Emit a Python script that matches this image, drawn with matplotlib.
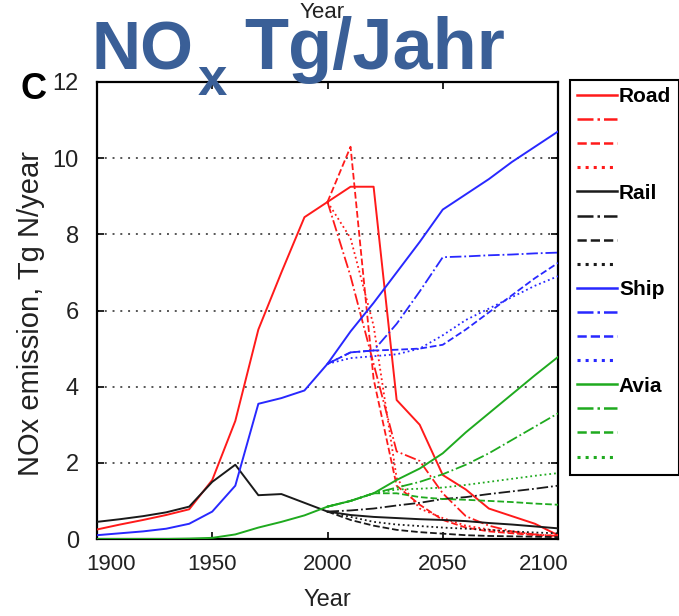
"""
NOx emissions by transport sector (Road, Rail, Ship, Avia), history + 4 scenarios
"""
import matplotlib
matplotlib.use('Agg')
import matplotlib.pyplot as plt
import matplotlib.transforms as mtransforms
from matplotlib.lines import Line2D

plt.rcParams['font.family'] = ['Liberation Sans', 'DejaVu Sans']

# historical period (shared by all scenarios)
years_hist = [1900, 1910, 1920, 1930, 1940, 1950, 1960, 1970, 1980, 1990, 2000]
road_hist = [0.25, 0.38, 0.5, 0.63, 0.78, 1.55, 3.1, 5.5, 7.0, 8.45, 8.85]
rail_hist = [0.45, 0.52, 0.6, 0.7, 0.85, 1.5, 1.95, 1.15, 1.18, 0.95, 0.72]
ship_hist = [0.1, 0.15, 0.2, 0.27, 0.4, 0.72, 1.4, 3.55, 3.7, 3.9, 4.6]
avia_hist = [0.0, 0.0, 0.0, 0.0, 0.01, 0.03, 0.12, 0.3, 0.45, 0.62, 0.85]

# future scenarios: solid, dash-dot, dashed, dotted
years_fut = [2000, 2010, 2020, 2030, 2040, 2050, 2060, 2070, 2080, 2090, 2100]

road_s1 = [8.85, 9.25, 9.25, 3.65, 3.0, 1.68, 1.3, 0.8, 0.6, 0.4, 0.1]
road_s2 = [8.85, 6.9, 4.6, 2.3, 2.05, 1.2, 0.6, 0.35, 0.2, 0.12, 0.08]
road_s3 = [8.85, 10.3, 4.2, 1.4, 0.9, 0.5, 0.3, 0.2, 0.15, 0.1, 0.05]
road_s4 = [8.85, 7.9, 5.6, 1.6, 0.8, 0.55, 0.35, 0.25, 0.18, 0.12, 0.08]

rail_s1 = [0.72, 0.63, 0.58, 0.55, 0.52, 0.5, 0.47, 0.42, 0.38, 0.33, 0.28]
rail_s2 = [0.72, 0.75, 0.8, 0.88, 0.95, 1.05, 1.1, 1.18, 1.25, 1.32, 1.4]
rail_s3 = [0.72, 0.5, 0.35, 0.24, 0.18, 0.14, 0.1, 0.08, 0.07, 0.06, 0.05]
rail_s4 = [0.72, 0.58, 0.45, 0.38, 0.34, 0.3, 0.27, 0.24, 0.2, 0.17, 0.15]

ship_s1 = [4.6, 5.45, 6.2, 7.0, 7.8, 8.65, 9.05, 9.45, 9.9, 10.3, 10.7]
ship_s2 = [4.6, 4.9, 4.95, 5.65, 6.5, 7.4, 7.42, 7.45, 7.47, 7.5, 7.52]
ship_s3 = [4.6, 4.9, 4.95, 4.97, 5.0, 5.1, 5.5, 5.95, 6.4, 6.85, 7.25]
ship_s4 = [4.6, 4.75, 4.8, 4.85, 5.0, 5.35, 5.75, 6.05, 6.35, 6.65, 6.9]

avia_s1 = [0.85, 1.0, 1.2, 1.55, 1.85, 2.25, 2.8, 3.3, 3.8, 4.3, 4.78]
avia_s2 = [0.85, 1.0, 1.2, 1.35, 1.5, 1.7, 1.95, 2.25, 2.6, 2.95, 3.3]
avia_s3 = [0.85, 1.0, 1.2, 1.2, 1.1, 1.05, 1.03, 1.0, 0.97, 0.93, 0.9]
avia_s4 = [0.85, 1.0, 1.2, 1.3, 1.32, 1.35, 1.42, 1.5, 1.58, 1.66, 1.73]

sectors = ['Road', 'Rail', 'Ship', 'Avia']
colors = ['#ff1a1a', '#1a1a1a', '#2828ff', '#1faa1f']
hist = [road_hist, rail_hist, ship_hist, avia_hist]
scen = [[road_s1, road_s2, road_s3, road_s4],
        [rail_s1, rail_s2, rail_s3, rail_s4],
        [ship_s1, ship_s2, ship_s3, ship_s4],
        [avia_s1, avia_s2, avia_s3, avia_s4]]
styles = ['-', '-.', '--', ':']

fig = plt.figure(figsize=(6.79, 6.16), dpi=100)
ax = fig.add_axes([97 / 679, 1 - 539 / 616, 461 / 679, 457 / 616])

handles, labels = [], []
for name, col, h, sc in zip(sectors, colors, hist, scen):
    for k, (ls, vals) in enumerate(zip(styles, sc)):
        lw = 1.4 if ls == '-' else 1.3
        ax.plot(years_fut, vals, color=col, linestyle=ls, linewidth=lw, zorder=3)
        handles.append(Line2D([], [], color=col, linestyle=ls,
                              linewidth=2.2 if ls == ':' else 1.8))
        labels.append(name if k == 0 else '')
    ax.plot(years_hist, h, color=col, linewidth=1.4, zorder=3)

ax.set_xlim(1900, 2100)
ax.set_ylim(0, 12)
ax.set_xticks([1900, 1950, 2000, 2050, 2100])
ax.set_yticks([0, 2, 4, 6, 8, 10, 12])
ax.tick_params(direction='in', top=True, right=True, length=5, width=1.2,
               labelcolor='#222222')
ax.tick_params(axis='y', labelsize=17, pad=13)
ax.tick_params(axis='x', labelsize=16, pad=11)
for y in [2, 4, 6, 8, 10]:
    ax.axhline(y, color='#555555', linestyle=(0, (1, 3)), linewidth=1.4, zorder=1)
for s in ax.spines.values():
    s.set_linewidth(1.6)
ax.set_xlabel('Year', fontsize=17, color='#222222', labelpad=10)

# edge year labels sit inward in the original
xlabels = ax.get_xticklabels()
xlabels[0].set_transform(xlabels[0].get_transform() +
                         mtransforms.ScaledTranslation(14 / 100, 0, fig.dpi_scale_trans))
xlabels[-1].set_transform(xlabels[-1].get_transform() +
                          mtransforms.ScaledTranslation(-14 / 100, 0, fig.dpi_scale_trans))

fig.text(31 / 679, 1 - 314 / 616, 'NOx emission, Tg N/year', rotation=90,
         fontsize=21, color='#222222', ha='center', va='center')
# top axis label, partly hidden behind the overlaid title
fig.text(322 / 679, 1 - 13 / 616, 'Year', fontsize=16, color='#222222',
         ha='center', va='center', zorder=1)
fig.text(20 / 679, 1 - 99 / 616, 'C', fontsize=26, fontweight='bold',
         ha='left', va='baseline')

blue = '#3a5f97'
fig.text(92 / 679, 1 - 69 / 616, 'NO', fontsize=49, fontweight='bold',
         color=blue, ha='left', va='baseline', zorder=5)
fig.text(198 / 679, 1 - 95 / 616, 'x', fontsize=38, fontweight='bold',
         color=blue, ha='left', va='baseline', zorder=5)
fig.text(244 / 679, 1 - 69 / 616, 'Tg/Jahr', fontsize=52, fontweight='bold',
         color=blue, ha='left', va='baseline', zorder=5)

leg = fig.legend(handles, labels, loc='upper left',
                 bbox_to_anchor=(570 / 679, 1 - 80 / 616), borderaxespad=0,
                 prop={'weight': 'bold', 'size': 15},
                 handlelength=1.9, handletextpad=0.1, labelspacing=0.245,
                 borderpad=0.35, fancybox=False, framealpha=1)
leg.get_frame().set_edgecolor('black')
leg.get_frame().set_linewidth(1.5)

plt.savefig('out.png', dpi=100)
